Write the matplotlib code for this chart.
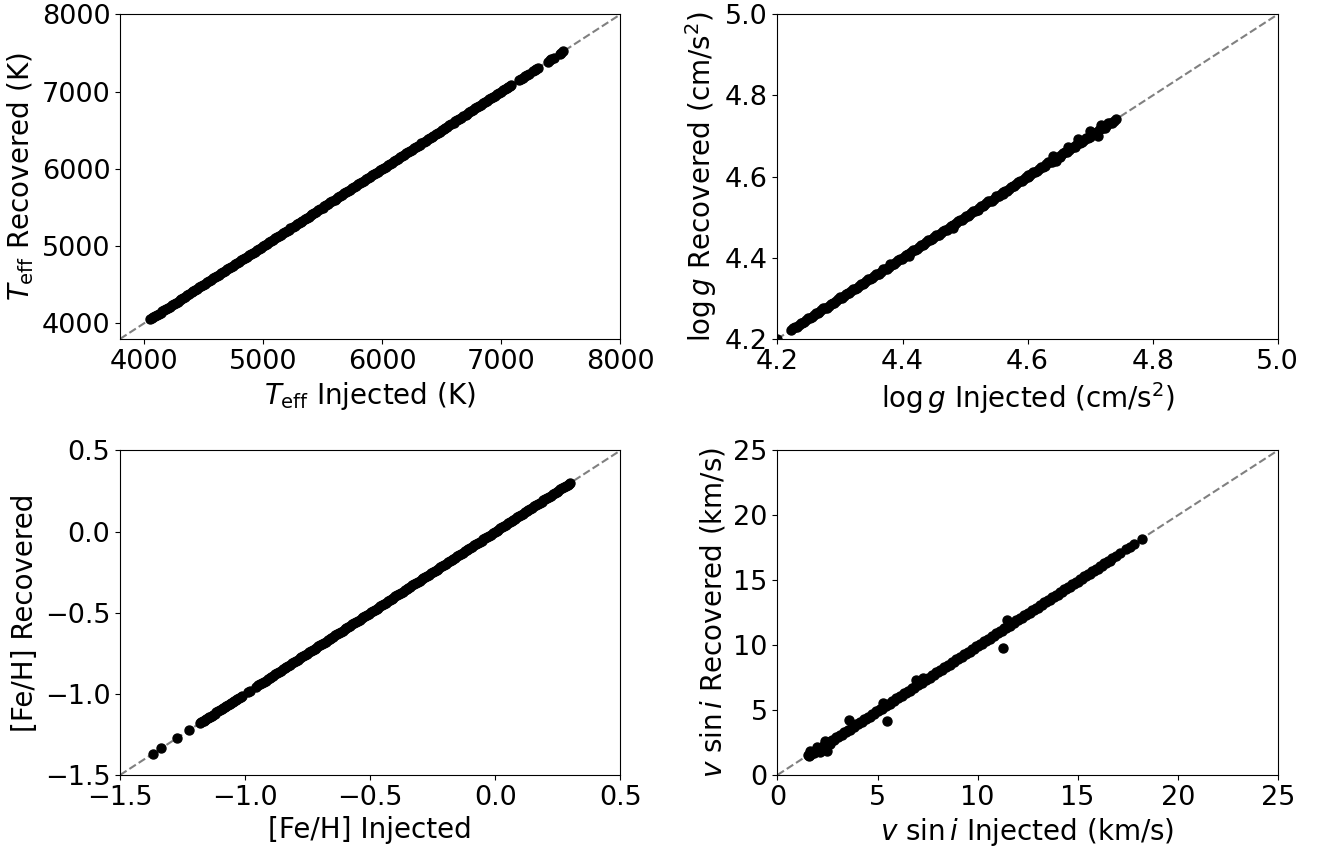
import matplotlib
matplotlib.use('Agg')
import matplotlib.pyplot as plt
import numpy as np

# Teff (K): recovered equals injected
teff_inj = [4055, 4070, 4080, 4095, 4110, 4125, 4140, 4155, 4170, 4185, 4200, 4218,
            4235, 4250, 4265, 4282, 4300, 4315, 4330, 4348, 4365, 4382, 4400, 4415,
            4430, 4448, 4465, 4482, 4500, 4515, 4530, 4548, 4565, 4582, 4600, 4615,
            4630, 4648, 4665, 4682, 4700, 4715, 4730, 4748, 4765, 4782, 4800, 4815,
            4830, 4848, 4865, 4882, 4900, 4915, 4930, 4948, 4965, 4982, 5000, 5015,
            5030, 5048, 5065, 5082, 5100, 5115, 5130, 5148, 5165, 5182, 5200, 5215,
            5230, 5248, 5265, 5282, 5300, 5315, 5330, 5348, 5365, 5382, 5400, 5415,
            5430, 5448, 5465, 5482, 5500, 5515, 5530, 5548, 5565, 5582, 5600, 5615,
            5630, 5648, 5665, 5682, 5700, 5715, 5730, 5748, 5765, 5782, 5800, 5815,
            5830, 5848, 5865, 5882, 5900, 5915, 5930, 5948, 5965, 5982, 6000, 6015,
            6030, 6048, 6065, 6082, 6100, 6115, 6130, 6148, 6165, 6182, 6200, 6215,
            6230, 6248, 6265, 6282, 6300, 6315, 6330, 6348, 6365, 6382, 6400, 6415,
            6430, 6448, 6465, 6482, 6500, 6515, 6530, 6548, 6565, 6582, 6600, 6615,
            6630, 6648, 6665, 6682, 6700, 6715, 6730, 6748, 6765, 6782, 6800, 6815,
            6830, 6848, 6865, 6882, 6900, 6915, 6930, 6948, 6965, 6982, 7000, 7015,
            7030, 7045, 7060, 7070, 7080, 7150, 7165, 7180, 7200, 7215, 7230, 7265,
            7280, 7295, 7310, 7390, 7405, 7420, 7440, 7490, 7505, 7520]
teff_rec = list(teff_inj)

# log g (cm/s^2)
logg_inj = [4.200, 4.222, 4.225, 4.228, 4.231, 4.234, 4.237, 4.240, 4.243, 4.246,
            4.249, 4.252, 4.255, 4.258, 4.261, 4.264, 4.267, 4.270, 4.273, 4.276,
            4.279, 4.282, 4.285, 4.288, 4.291, 4.294, 4.297, 4.300, 4.303, 4.306,
            4.309, 4.312, 4.315, 4.318, 4.321, 4.324, 4.327, 4.330, 4.333, 4.336,
            4.339, 4.342, 4.345, 4.348, 4.351, 4.354, 4.357, 4.360, 4.363, 4.366,
            4.369, 4.372, 4.375, 4.378, 4.381, 4.384, 4.387, 4.390, 4.393, 4.396,
            4.399, 4.402, 4.405, 4.408, 4.411, 4.414, 4.417, 4.420, 4.423, 4.426,
            4.429, 4.432, 4.435, 4.438, 4.441, 4.444, 4.447, 4.450, 4.453, 4.456,
            4.459, 4.462, 4.465, 4.468, 4.471, 4.474, 4.477, 4.480, 4.483, 4.486,
            4.489, 4.492, 4.495, 4.498, 4.501, 4.504, 4.507, 4.510, 4.513, 4.516,
            4.519, 4.522, 4.525, 4.528, 4.531, 4.534, 4.537, 4.540, 4.543, 4.546,
            4.549, 4.552, 4.555, 4.558, 4.561, 4.564, 4.567, 4.570, 4.573, 4.576,
            4.579, 4.582, 4.585, 4.588, 4.591, 4.594, 4.597, 4.600, 4.603, 4.606,
            4.609, 4.612, 4.615, 4.618, 4.621, 4.624, 4.627, 4.630, 4.633, 4.636,
            4.639, 4.642, 4.645, 4.648, 4.651, 4.654, 4.657, 4.660, 4.663, 4.666,
            4.669, 4.672, 4.675, 4.678, 4.681, 4.684, 4.687, 4.690, 4.693, 4.696,
            4.699, 4.702, 4.705, 4.708, 4.711, 4.714, 4.717, 4.720, 4.723, 4.726,
            4.729, 4.732, 4.735, 4.738, 4.742,
            4.410, 4.480, 4.640, 4.645, 4.680, 4.700, 4.712, 4.718, 4.665, 4.300,
            4.520, 4.380, 4.560, 4.600]
logg_rec = [4.200, 4.222, 4.227, 4.228, 4.229, 4.234, 4.239, 4.240, 4.241, 4.246,
            4.251, 4.252, 4.253, 4.258, 4.263, 4.264, 4.265, 4.270, 4.275, 4.276,
            4.277, 4.282, 4.287, 4.288, 4.289, 4.294, 4.299, 4.300, 4.301, 4.306,
            4.311, 4.312, 4.313, 4.318, 4.323, 4.324, 4.325, 4.330, 4.335, 4.336,
            4.337, 4.342, 4.347, 4.348, 4.349, 4.354, 4.359, 4.360, 4.361, 4.366,
            4.371, 4.372, 4.373, 4.378, 4.383, 4.384, 4.385, 4.390, 4.395, 4.396,
            4.397, 4.402, 4.407, 4.408, 4.409, 4.414, 4.419, 4.420, 4.421, 4.426,
            4.431, 4.432, 4.433, 4.438, 4.443, 4.444, 4.445, 4.450, 4.455, 4.456,
            4.457, 4.462, 4.467, 4.468, 4.469, 4.474, 4.479, 4.480, 4.481, 4.486,
            4.491, 4.492, 4.493, 4.498, 4.503, 4.504, 4.505, 4.510, 4.515, 4.516,
            4.517, 4.522, 4.527, 4.528, 4.529, 4.534, 4.539, 4.540, 4.541, 4.546,
            4.551, 4.552, 4.553, 4.558, 4.563, 4.564, 4.565, 4.570, 4.575, 4.576,
            4.577, 4.582, 4.587, 4.588, 4.589, 4.594, 4.599, 4.600, 4.601, 4.606,
            4.611, 4.612, 4.613, 4.618, 4.623, 4.624, 4.625, 4.630, 4.635, 4.636,
            4.637, 4.642, 4.647, 4.648, 4.649, 4.654, 4.659, 4.660, 4.661, 4.666,
            4.671, 4.672, 4.673, 4.678, 4.683, 4.684, 4.685, 4.690, 4.695, 4.696,
            4.697, 4.702, 4.707, 4.708, 4.709, 4.714, 4.719, 4.720, 4.721, 4.726,
            4.731, 4.732, 4.733, 4.738, 4.742,
            4.404, 4.474, 4.650, 4.638, 4.693, 4.712, 4.700, 4.728, 4.672, 4.303,
            4.517, 4.384, 4.556, 4.604]

# [Fe/H]: recovered equals injected
feh_inj = [-1.368, -1.336, -1.274, -1.225, -1.180, -1.175, -1.170, -1.165, -1.160,
           -1.155, -1.150, -1.145, -1.140, -1.134, -1.128, -1.122, -1.115, -1.108,
           -1.100, -1.094, -1.088, -1.082, -1.075, -1.068, -1.062, -1.056, -1.050,
           -1.044, -1.038, -1.032, -1.025, -1.018, -1.012, -0.990, -0.982,
           -0.955, -0.948, -0.940, -0.932, -0.925, -0.918, -0.910, -0.902, -0.895,
           -0.888, -0.880, -0.872, -0.865, -0.858, -0.850, -0.842, -0.835, -0.828,
           -0.820, -0.812, -0.805, -0.798, -0.790, -0.782, -0.775, -0.768, -0.760,
           -0.752, -0.745, -0.738, -0.730, -0.722, -0.715, -0.708, -0.700, -0.692,
           -0.685, -0.678, -0.670, -0.662, -0.655, -0.648, -0.640, -0.632, -0.625,
           -0.618, -0.610, -0.602, -0.595, -0.588, -0.580, -0.572, -0.565, -0.558,
           -0.550, -0.542, -0.535, -0.528, -0.520, -0.512, -0.505, -0.498, -0.490,
           -0.482, -0.475, -0.468, -0.460, -0.452, -0.445, -0.438, -0.430, -0.422,
           -0.415, -0.408, -0.400, -0.392, -0.385, -0.378, -0.370, -0.362, -0.355,
           -0.348, -0.340, -0.332, -0.325, -0.318, -0.310, -0.302, -0.295, -0.288,
           -0.280, -0.272, -0.265, -0.258, -0.250, -0.242, -0.235, -0.228, -0.220,
           -0.212, -0.205, -0.198, -0.190, -0.182, -0.175, -0.168, -0.160, -0.152,
           -0.145, -0.138, -0.130, -0.122, -0.115, -0.108, -0.100, -0.092, -0.085,
           -0.078, -0.070, -0.062, -0.055, -0.048, -0.040, -0.032, -0.025, -0.018,
           -0.010, -0.002, 0.005, 0.012, 0.020, 0.028, 0.035, 0.042, 0.050, 0.058,
           0.065, 0.072, 0.080, 0.088, 0.095, 0.102, 0.110, 0.118, 0.125, 0.132,
           0.140, 0.148, 0.155, 0.162, 0.170, 0.178, 0.185, 0.192, 0.200, 0.208,
           0.215, 0.222, 0.230, 0.238, 0.245, 0.252, 0.260, 0.268, 0.275, 0.282,
           0.290, 0.295, 0.300]
feh_rec = list(feh_inj)

# v sin i (km/s)
vsini_inj = [1.5, 1.6, 1.7, 1.8, 1.9, 2.0, 2.1, 2.2, 2.3, 2.4, 2.5, 2.6, 2.7, 2.8,
             2.9, 3.0, 3.1, 3.2, 3.3, 3.4, 3.5, 3.6, 3.7, 3.8, 3.9, 4.0, 4.1, 4.2,
             4.3, 4.4, 4.5, 4.6, 4.7, 4.8, 4.9, 5.0, 5.1, 5.2, 5.3, 5.4, 5.5, 5.6,
             5.7, 5.8, 5.9, 6.0, 6.1, 6.2, 6.3, 6.4, 6.5, 6.6, 6.7, 6.8, 6.9, 7.0,
             7.1, 7.2, 7.3, 7.4, 7.5, 7.6, 7.7, 7.8, 7.9, 8.0, 8.1, 8.2, 8.3, 8.4,
             8.5, 8.6, 8.7, 8.8, 8.9, 9.0, 9.1, 9.2, 9.3, 9.4, 9.5, 9.6, 9.7, 9.8,
             9.9, 10.0, 10.1, 10.2, 10.3, 10.4, 10.5, 10.6, 10.7, 10.8, 10.9, 11.0,
             11.1, 11.2, 11.3, 11.4, 11.5, 11.6, 11.7, 11.8, 11.9, 12.0, 12.1, 12.2,
             12.3, 12.4, 12.5, 12.6, 12.7, 12.8, 12.9, 13.0, 13.1, 13.2, 13.3, 13.4,
             13.5, 13.6, 13.7, 13.8, 13.9, 14.0, 14.1, 14.2, 14.3, 14.4, 14.5, 14.6,
             14.7, 14.8, 14.9, 15.0, 15.1, 15.2, 15.3, 15.4, 15.5, 15.6, 15.7, 15.8,
             15.9, 16.0, 16.1, 16.2, 16.3, 16.4, 16.5, 16.6, 16.7, 16.9, 17.1, 17.4,
             17.6, 17.8, 18.2,
             1.55, 1.63, 1.97, 2.13, 2.38, 2.47, 2.63, 3.55, 5.47, 5.27, 6.93, 7.27,
             11.25, 11.47]
vsini_rec = [1.5, 1.5, 1.7, 1.7, 1.9, 1.9, 2.1, 2.1, 2.3, 2.3, 2.5, 2.5, 2.7, 2.7,
             2.9, 2.9, 3.1, 3.1, 3.3, 3.3, 3.5, 3.5, 3.7, 3.7, 3.9, 3.9, 4.1, 4.1,
             4.3, 4.3, 4.5, 4.5, 4.7, 4.7, 4.9, 4.9, 5.1, 5.1, 5.3, 5.3, 5.5, 5.5,
             5.7, 5.7, 5.9, 5.9, 6.1, 6.1, 6.3, 6.3, 6.5, 6.5, 6.7, 6.7, 6.9, 6.9,
             7.1, 7.1, 7.3, 7.3, 7.5, 7.5, 7.7, 7.7, 7.9, 7.9, 8.1, 8.1, 8.3, 8.3,
             8.5, 8.5, 8.7, 8.7, 8.9, 8.9, 9.1, 9.1, 9.3, 9.3, 9.5, 9.5, 9.7, 9.7,
             9.9, 9.9, 10.1, 10.1, 10.3, 10.3, 10.5, 10.5, 10.7, 10.7, 10.9, 10.9,
             11.1, 11.1, 11.3, 11.3, 11.5, 11.5, 11.7, 11.7, 11.9, 11.9, 12.1, 12.1,
             12.3, 12.3, 12.5, 12.5, 12.7, 12.7, 12.9, 12.9, 13.1, 13.1, 13.3, 13.3,
             13.5, 13.5, 13.7, 13.7, 13.9, 13.9, 14.1, 14.1, 14.3, 14.3, 14.5, 14.5,
             14.7, 14.7, 14.9, 14.9, 15.1, 15.1, 15.3, 15.3, 15.5, 15.5, 15.7, 15.7,
             15.9, 15.9, 16.1, 16.1, 16.3, 16.3, 16.5, 16.5, 16.7, 16.9, 17.1, 17.4,
             17.6, 17.8, 18.2,
             1.48, 1.87, 2.12, 1.74, 2.64, 1.87, 2.38, 4.27, 4.15, 5.54, 7.30, 7.50,
             9.77, 11.92]

panels = [
    (teff_inj, teff_rec, (3800, 8000), [4000, 5000, 6000, 7000, 8000],
     r'$T_{\rm eff}$ Injected (K)', r'$T_{\rm eff}$ Recovered (K)'),
    (logg_inj, logg_rec, (4.2, 5.0), [4.2, 4.4, 4.6, 4.8, 5.0],
     r'$\log g$ Injected (cm/s$^2$)', r'$\log g$ Recovered (cm/s$^2$)'),
    (feh_inj, feh_rec, (-1.5, 0.5), [-1.5, -1.0, -0.5, 0.0, 0.5],
     '[Fe/H] Injected', '[Fe/H] Recovered'),
    (vsini_inj, vsini_rec, (0, 25), [0, 5, 10, 15, 20, 25],
     r'$v$ $\sin i$ Injected (km/s)', r'$v$ $\sin i$ Recovered (km/s)'),
]

fig, axes = plt.subplots(2, 2, figsize=(13.2, 8.46), dpi=100)
plt.subplots_adjust(left=0.091, right=0.968, top=0.983, bottom=0.084,
                    wspace=0.314, hspace=0.344)

for ax, (x, y, lim, ticks, xl, yl) in zip(axes.flat, panels):
    ax.plot(lim, lim, '--', color='gray', lw=1.5, zorder=1)
    ax.scatter(x, y, s=42, color='k', zorder=2)
    ax.set_xlim(lim)
    ax.set_ylim(lim)
    ax.set_xticks(ticks)
    ax.set_yticks(ticks)
    ax.tick_params(labelsize=19.5)
    ax.set_xlabel(xl, fontsize=20)
    ax.set_ylabel(yl, fontsize=20)

# tick format for decimals
axes[0, 1].set_xticklabels(['4.2', '4.4', '4.6', '4.8', '5.0'])
axes[0, 1].set_yticklabels(['4.2', '4.4', '4.6', '4.8', '5.0'])

plt.savefig('out.png', dpi=100)
